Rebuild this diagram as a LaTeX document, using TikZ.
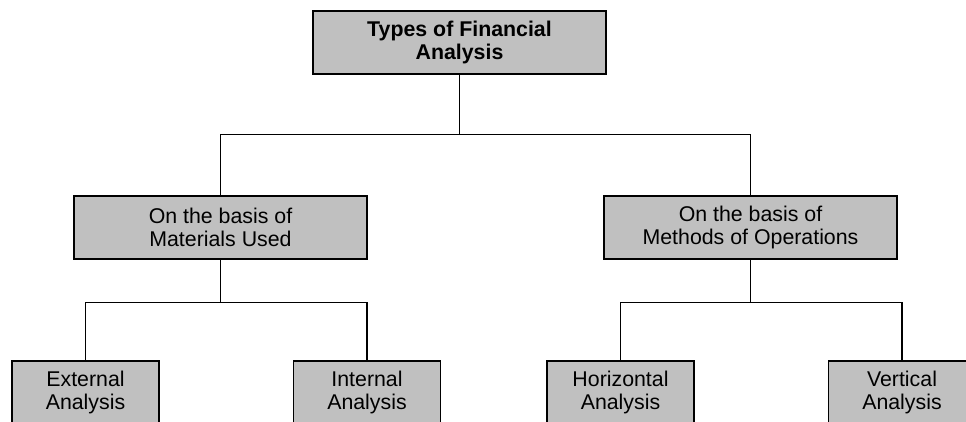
\documentclass[tikz,border=0pt]{standalone}
\usepackage{fontspec}
\setmainfont{Liberation Sans}
\definecolor{boxgray}{RGB}{192,192,192}
\tikzset{every picture/.style={line width=0.75pt}}
\tikzset{
  typebox/.style={draw, line width=1.1pt, fill=boxgray, align=center, inner sep=0pt,
    minimum width=219.75pt, minimum height=47.25pt, font=\fontsize{16}{17.5}\selectfont},
  leafbox/.style={typebox, minimum width=110.25pt},
  link/.style={line width=1pt}
}

\begin{document}
\begin{tikzpicture}[x=0.75pt,y=0.75pt,yscale=-1,xscale=1]
\useasboundingbox (0,0) rectangle (966,421);
\clip (0,0) rectangle (966,421);

%Shape: Rectangle [top]
\node[typebox, font=\fontsize{16}{17.5}\selectfont\bfseries] (types) at (459.5,42.5) {Types of Financial\\Analysis};
%Shape: Rectangle [middle row]
\node[typebox] (materials) at (220.5,227.5) {On the basis of\\Materials Used};
\node[typebox] (methods) at (750.5,227.5) {On the basis of\\Methods of Operations};
%Shape: Rectangle [bottom row]
\node[leafbox] (external) at (85.5,392.5) {External\\Analysis};
\node[leafbox] (internal) at (367,392.5) {Internal\\Analysis};
\node[leafbox] (horizontal) at (620.5,392.5) {Horizontal\\Analysis};
\node[leafbox] (vertical) at (902,392.5) {Vertical\\Analysis};

%Straight Lines
\draw[link] (types.south) -- ++(0,60) -| (materials.north);
\draw[link] (types.south) -- ++(0,60) -| (methods.north);
\draw[link] (materials.south) -- ++(0,43) -| (external.north);
\draw[link] (materials.south) -- ++(0,43) -| (internal.north);
\draw[link] (methods.south) -- ++(0,43) -| (horizontal.north);
\draw[link] (methods.south) -- ++(0,43) -| (vertical.north);

\end{tikzpicture}
\end{document}
